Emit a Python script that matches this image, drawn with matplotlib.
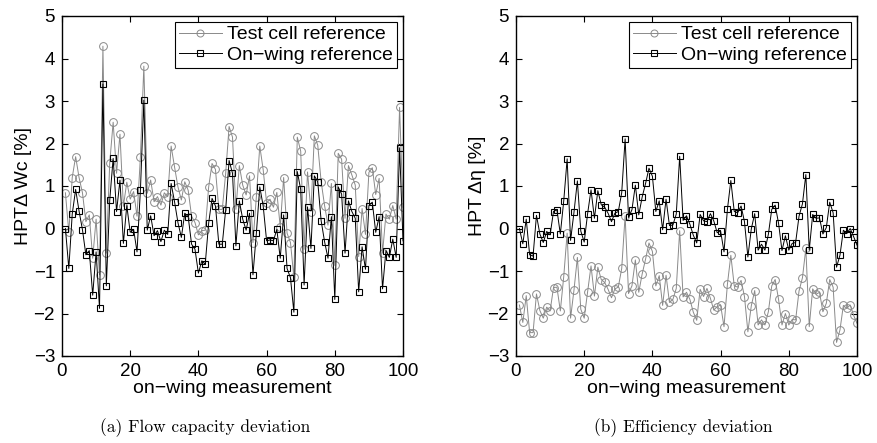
import numpy as np
import matplotlib
matplotlib.use("Agg")
import matplotlib.pyplot as plt

plt.rcParams['font.family'] = ['Liberation Sans', 'DejaVu Sans']

measurement = np.arange(1, 101)

# (a) HPT flow capacity deviation [%]
flow_test_cell = [
    0.84, -0.09, 1.20, 1.69, 1.20, 0.84, 0.16, 0.32, -0.70, 0.22,
    -1.09, 4.29, -0.58, 1.55, 2.50, 1.30, 2.22, 0.52, 1.09, 0.69,
    0.87, 0.29, 1.69, 3.82, 0.83, 1.14, 0.63, 0.75, 0.55, 0.84,
    0.75, 1.94, 1.45, 0.98, 0.67, 1.10, 0.90, 0.29, 0.14, -0.15,
    -0.05, -0.04, 0.97, 1.53, 1.39, 0.45, 0.45, 1.30, 2.40, 2.15,
    0.45, 1.48, 1.02, 0.79, 1.24, -0.33, 0.75, 1.94, 1.38, 0.60,
    0.69, 0.50, 0.85, 0.04, 1.20, -0.11, -0.33, -1.15, 2.15, 1.82,
    -0.49, 1.33, 0.40, 2.18, 1.96, 1.10, 0.54, 0.08, 1.06, -0.87,
    1.77, 1.63, 0.24, 1.48, 1.26, 1.02, -0.66, 0.47, -0.14, 1.32,
    1.43, 0.80, 1.18, -0.58, 0.34, 0.22, 0.54, 0.22, 2.85, 0.50,
]
flow_on_wing = [
    0.00, -0.94, 0.34, 0.92, 0.41, -0.03, -0.62, -0.52, -1.57, -0.55,
    -1.88, 3.40, -1.35, 0.67, 1.65, 0.40, 1.14, -0.35, 0.54, -0.09,
    -0.02, -0.55, 0.91, 3.02, -0.04, 0.30, -0.17, -0.05, -0.31, -0.04,
    -0.14, 1.06, 0.63, 0.14, -0.21, 0.36, 0.28, -0.37, -0.49, -1.05,
    -0.76, -0.84, 0.12, 0.71, 0.53, -0.37, -0.37, 0.44, 1.60, 1.30,
    -0.41, 0.65, 0.22, -0.04, 0.36, -1.09, -0.11, 0.98, 0.53, -0.29,
    -0.27, -0.29, -0.02, -0.70, 0.32, -0.94, -1.16, -1.97, 1.34, 0.92,
    -1.33, 0.51, -0.47, 1.24, 1.10, 0.18, -0.31, -0.70, 0.28, -1.67,
    0.98, 0.81, -0.58, 0.65, 0.40, 0.24, -1.49, -0.43, -0.96, 0.54,
    0.62, -0.09, 0.28, -1.42, -0.52, -0.68, -0.25, -0.68, 1.90, -0.29,
]

# (b) HPT efficiency deviation [%]
eff_test_cell = [
    -1.80, -2.21, -1.58, -2.45, -2.45, -1.54, -1.93, -2.11, -1.85, -1.94,
    -1.39, -1.38, -1.94, -1.13, -0.11, -2.11, -1.45, -0.68, -1.90, -2.11,
    -1.49, -0.88, -1.59, -0.91, -1.20, -1.27, -1.43, -1.63, -1.42, -1.38,
    -0.94, 0.30, -1.53, -1.35, -0.74, -1.50, -1.07, -0.72, -0.34, -0.54,
    -1.35, -1.11, -1.81, -1.10, -1.74, -1.67, -1.41, -0.05, -1.61, -1.50,
    -1.67, -1.97, -2.16, -1.43, -1.60, -1.41, -1.64, -1.92, -1.84, -1.80,
    -2.31, -1.31, -0.63, -1.35, -1.38, -1.22, -1.60, -2.43, -1.82, -1.46,
    -2.27, -2.15, -2.27, -1.96, -1.35, -1.20, -1.67, -2.27, -2.00, -2.27,
    -2.14, -2.15, -1.47, -1.16, -0.47, -2.31, -1.42, -1.55, -1.50, -1.96,
    -1.76, -1.20, -1.38, -2.68, -2.39, -1.81, -1.88, -1.80, -2.04, -2.23,
]
eff_on_wing = [
    0.00, -0.36, 0.22, -0.62, -0.65, 0.31, -0.13, -0.33, -0.07, -0.15,
    0.40, 0.44, -0.13, 0.65, 1.64, -0.28, 0.38, 1.12, -0.06, -0.32,
    0.35, 0.91, 0.24, 0.89, 0.56, 0.50, 0.36, 0.16, 0.36, 0.40,
    0.84, 2.11, 0.26, 0.44, 1.02, 0.32, 0.74, 1.06, 1.42, 1.23,
    0.40, 0.65, -0.03, 0.69, 0.07, 0.08, 0.34, 1.70, 0.19, 0.30,
    0.10, -0.16, -0.34, 0.33, 0.18, 0.16, 0.35, 0.18, -0.10, -0.06,
    -0.55, 0.45, 1.13, 0.40, 0.37, 0.53, 0.16, -0.67, -0.01, 0.35,
    -0.51, -0.37, -0.51, -0.14, 0.45, 0.55, 0.12, -0.52, -0.17, -0.51,
    -0.35, -0.33, 0.29, 0.58, 1.27, -0.51, 0.33, 0.24, 0.25, -0.13,
    0.02, 0.62, 0.37, -0.91, -0.63, -0.04, -0.12, 0.00, -0.19, -0.39,
]

series_labels = ['Test cell reference', 'On\u2212wing reference']
x_label = 'on\u2212wing measurement'
y_labels = ['HPT\u0394 Wc [%]', 'HPT \u0394\u03b7 [%]']
captions = ['(a) Flow capacity deviation', '(b) Efficiency deviation']
x_ticks = [0, 20, 40, 60, 80, 100]
y_ticks = [-3, -2, -1, 0, 1, 2, 3, 4, 5]

W, H = 878, 443
fig = plt.figure(figsize=(W / 100, H / 100), dpi=100)

axes_px = [(62, 16, 403, 356), (516, 16, 857, 356)]
panels = [(flow_test_cell, flow_on_wing), (eff_test_cell, eff_on_wing)]
caption_x = [205, 683]

gray = '#8a8a8a'
tick_fs = 13.5
label_fs = 14

for (x0, y0, x1, y1), (tc, ow), ylab, cap, cx in zip(
        axes_px, panels, y_labels, captions, caption_x):
    ax = fig.add_axes([x0 / W, 1 - y1 / H, (x1 - x0) / W, (y1 - y0) / H])
    ax.plot(measurement, tc, color=gray, lw=0.7, marker='o', ms=5.6,
            mfc='none', mec=gray, mew=0.7, label=series_labels[0])
    ax.plot(measurement, ow, color='black', lw=0.7, marker='s', ms=4.6,
            mfc='none', mec='black', mew=0.8, label=series_labels[1])
    ax.set_xlim(0, 100)
    ax.set_ylim(-3, 5)
    ax.set_xticks(x_ticks)
    ax.set_yticks(y_ticks)
    ax.tick_params(direction='in', top=True, right=True, length=4,
                   width=0.8, labelsize=tick_fs)
    ax.tick_params(axis='x', pad=5)
    ax.tick_params(axis='y', pad=5)
    for sp in ax.spines.values():
        sp.set_linewidth(1.0)
    ax.set_xlabel(x_label, fontsize=label_fs, labelpad=0)
    ax.set_ylabel(ylab, fontsize=label_fs, labelpad=1)
    leg = ax.legend(loc='upper right', fontsize=label_fs, frameon=True,
                    fancybox=False, edgecolor='black', framealpha=1,
                    borderaxespad=0.3, handlelength=2.2, handletextpad=0.3,
                    borderpad=0.2, labelspacing=0.15, markerscale=0.9)
    leg.get_frame().set_linewidth(0.8)
    fig.text(cx / W, 1 - 428 / H, cap, ha='center', va='center',
             family='cmr10', fontsize=12.5)

fig.savefig('out.png', dpi=100)
